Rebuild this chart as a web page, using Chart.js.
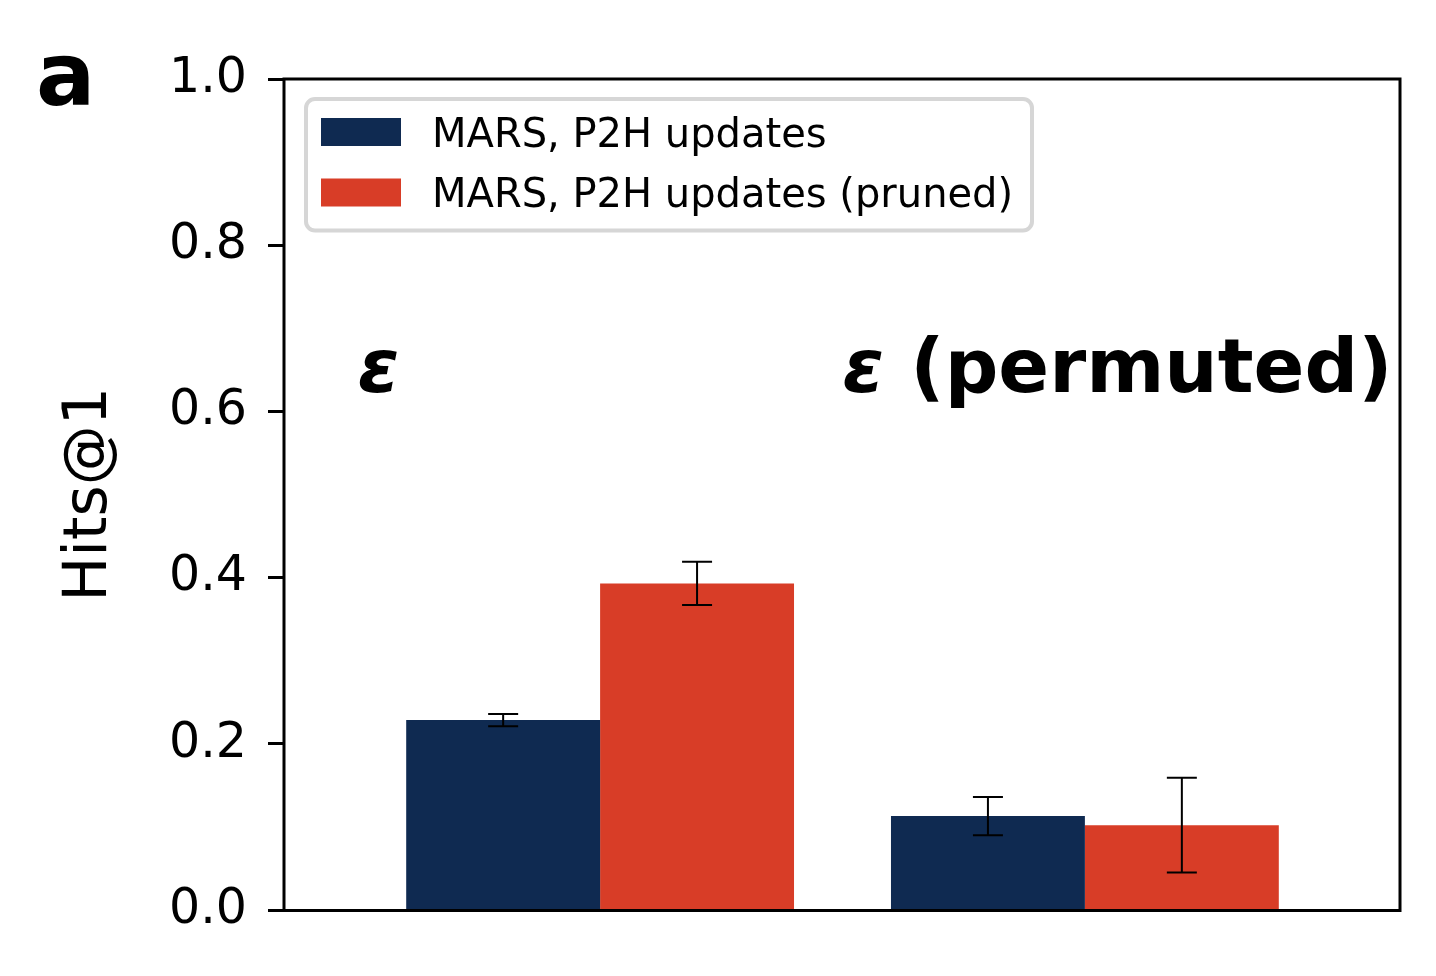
<!DOCTYPE html>
<html>
<head>
<meta charset="utf-8">
<script src="https://cdn.jsdelivr.net/npm/chart.js@4/dist/chart.umd.min.js"></script>
<style>
  html, body { margin: 0; padding: 0; background: #ffffff; }
  #wrap { width: 1436px; height: 976px; }
  canvas { display: block; }
</style>
</head>
<body>
<div id="wrap"><canvas id="c" width="1436" height="976"></canvas></div>
<script>
// ---- data ----
const categories = ['ε', 'ε (permuted)'];
const seriesLabels = ['MARS, P2H updates', 'MARS, P2H updates (pruned)'];
const p2hValues = [0.2285, 0.113];
const p2hErrors = [0.0074, 0.0229];
const prunedValues = [0.393, 0.102];
const prunedErrors = [0.026, 0.057];
const yTicks = [0.0, 0.2, 0.4, 0.6, 0.8, 1.0];
const yLabel = 'Hits@1';
const panelLetter = 'a';

const colors = ['#0f2a51', '#d83d27'];
const FONT = '"DejaVu Sans", "Liberation Sans", sans-serif';

Chart.defaults.font.family = FONT;
Chart.defaults.color = '#000000';

function toPoints(vals) { return vals.map((v, i) => ({ x: i, y: v })); }

const errorBarsPlugin = {
  id: 'errorBars',
  afterDatasetsDraw(chart) {
    const ctx = chart.ctx;
    const ys = chart.scales.y;
    ctx.save();
    ctx.strokeStyle = '#000000';
    ctx.lineWidth = 2;
    chart.data.datasets.forEach((ds, di) => {
      const meta = chart.getDatasetMeta(di);
      meta.data.forEach((bar, i) => {
        const v = ds.data[i].y, e = ds.errors[i];
        const x = bar.x;
        const yTop = ys.getPixelForValue(v + e);
        const yBot = ys.getPixelForValue(v - e);
        ctx.beginPath();
        ctx.moveTo(x, yTop); ctx.lineTo(x, yBot);
        ctx.moveTo(x - 15, yTop); ctx.lineTo(x + 15, yTop);
        ctx.moveTo(x - 15, yBot); ctx.lineTo(x + 15, yBot);
        ctx.stroke();
      });
    });
    ctx.restore();
  }
};

const framePlugin = {
  id: 'frame',
  afterDatasetsDraw(chart) {
    const ctx = chart.ctx;
    const ca = chart.chartArea;
    ctx.save();
    ctx.strokeStyle = '#000000';
    ctx.lineWidth = 3;
    ctx.strokeRect(ca.left - 1, ca.top, ca.right - ca.left + 1, ca.bottom - ca.top + 0.5);
    ctx.restore();
  }
};

const annotPlugin = {
  id: 'annot',
  afterDraw(chart) {
    const ctx = chart.ctx;
    const xs = chart.scales.x, ys = chart.scales.y;
    ctx.save();
    ctx.fillStyle = '#000000';
    ctx.textBaseline = 'alphabetic';
    ctx.textAlign = 'left';
    // panel letter
    ctx.font = 'bold 88px ' + FONT;
    ctx.fillText(panelLetter, 36, 105);
    // category labels inside plot
    categories.forEach((c, i) => {
      let x = xs.getPixelForValue(i - 0.5);
      const y = ys.getPixelForValue(0.623);
      const sym = c.charAt(0), rest = c.slice(1);
      ctx.font = 'italic bold 75px ' + FONT;
      ctx.fillText(sym, x, y);
      x += ctx.measureText(sym).width;
      if (rest) {
        ctx.font = 'bold 75px ' + FONT;
        ctx.fillText(rest, x, y);
      }
    });
    // legend
    const lx = 306, ly = 99, lw = 726, lh = 131.5, r = 9;
    ctx.beginPath();
    ctx.moveTo(lx + r, ly);
    ctx.arcTo(lx + lw, ly, lx + lw, ly + lh, r);
    ctx.arcTo(lx + lw, ly + lh, lx, ly + lh, r);
    ctx.arcTo(lx, ly + lh, lx, ly, r);
    ctx.arcTo(lx, ly, lx + lw, ly, r);
    ctx.closePath();
    ctx.fillStyle = '#ffffff';
    ctx.fill();
    ctx.lineWidth = 4;
    ctx.strokeStyle = '#d6d6d6';
    ctx.stroke();
    chart.data.datasets.forEach((ds, di) => {
      const sy = 118 + di * 60.5;
      ctx.fillStyle = ds.backgroundColor;
      ctx.fillRect(321, sy, 80, 28);
      ctx.fillStyle = '#000000';
      ctx.font = '40px ' + FONT;
      ctx.fillText(ds.label, 432, 146.5 + di * 60);
    });
    ctx.restore();
  }
};

new Chart(document.getElementById('c'), {
  type: 'bar',
  data: {
    datasets: [
      { label: seriesLabels[0], data: toPoints(p2hValues), errors: p2hErrors,
        backgroundColor: colors[0], borderWidth: 0 },
      { label: seriesLabels[1], data: toPoints(prunedValues), errors: prunedErrors,
        backgroundColor: colors[1], borderWidth: 0 }
    ]
  },
  options: {
    responsive: false,
    devicePixelRatio: 1,
    animation: false,
    layout: { padding: { left: 0, top: 79, right: 36, bottom: 66 } },
    datasets: { bar: { barPercentage: 1.0, categoryPercentage: 0.8 } },
    plugins: { legend: { display: false }, tooltip: { enabled: false } },
    scales: {
      x: {
        type: 'linear',
        min: -0.65, max: 1.65,
        offset: false,
        display: false,
        grid: { offset: false },
        afterBuildTicks(scale) { scale.ticks = categories.map((c, i) => ({ value: i })); }
      },
      y: {
        type: 'linear',
        min: 0, max: 1,
        afterBuildTicks(scale) { scale.ticks = yTicks.map(v => ({ value: v })); },
        afterFit(scale) { scale.width = 285; },
        border: { display: false },
        grid: { drawOnChartArea: false, drawTicks: true, tickLength: 17, tickWidth: 3, tickColor: '#000000' },
        ticks: {
          padding: 21,
          color: '#000000',
          font: { size: 49, family: FONT },
          callback: (v) => Number(v).toFixed(1)
        },
        title: {
          display: true,
          text: yLabel,
          color: '#000000',
          font: { size: 60, family: FONT },
          padding: { top: 54, bottom: 0 }
        }
      }
    }
  },
  plugins: [errorBarsPlugin, framePlugin, annotPlugin]
});
</script>
</body>
</html>
